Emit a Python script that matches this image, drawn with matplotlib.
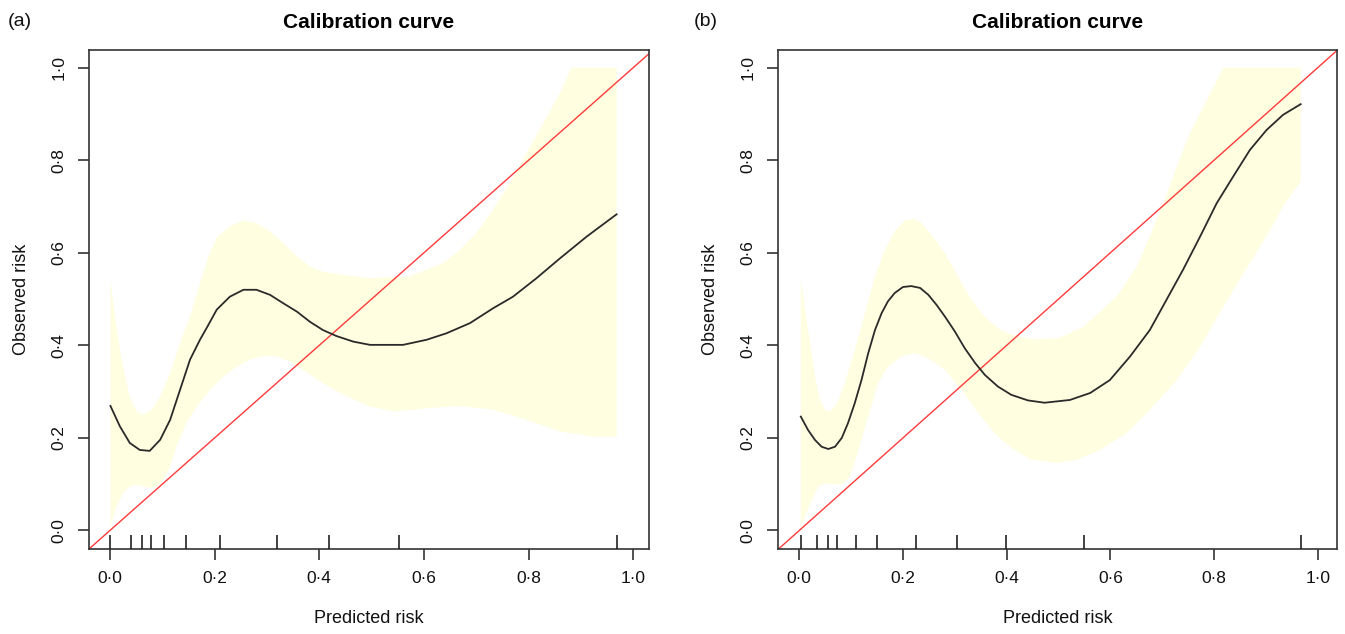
import matplotlib
matplotlib.use("Agg")
import matplotlib.pyplot as plt

plt.rcParams['font.family'] = ['Liberation Sans', 'DejaVu Sans']

# ---------------- data ----------------
tick_vals = [0.0, 0.2, 0.4, 0.6, 0.8, 1.0]
tick_labels = ["0·0", "0·2", "0·4", "0·6", "0·8", "1·0"]

# Panel (a)
a_curve_x = [0.001, 0.019, 0.038, 0.057, 0.076, 0.096, 0.115, 0.134, 0.153, 0.172, 0.188, 0.204,
             0.229, 0.255, 0.280, 0.306, 0.331, 0.357, 0.382, 0.407, 0.433, 0.465, 0.497,
             0.560, 0.605, 0.643, 0.688, 0.732, 0.770, 0.815, 0.860, 0.911, 0.968]
a_curve_y = [0.269, 0.225, 0.189, 0.174, 0.172, 0.196, 0.239, 0.304, 0.369, 0.412, 0.444, 0.477,
             0.505, 0.520, 0.520, 0.509, 0.491, 0.473, 0.451, 0.433, 0.420, 0.408, 0.401,
             0.401, 0.412, 0.426, 0.448, 0.480, 0.505, 0.545, 0.588, 0.635, 0.683]
a_upper_x = [0.001, 0.010, 0.019, 0.029, 0.038, 0.051, 0.064, 0.080, 0.096, 0.115, 0.134, 0.153,
             0.172, 0.188, 0.204, 0.229, 0.255, 0.280, 0.306, 0.331, 0.357, 0.382, 0.407, 0.446,
             0.497, 0.573, 0.637, 0.669, 0.700, 0.732, 0.764, 0.796, 0.828, 0.860, 0.882, 0.968]
a_upper_y = [0.541, 0.462, 0.390, 0.333, 0.289, 0.257, 0.250, 0.261, 0.289, 0.340, 0.405, 0.462,
             0.534, 0.592, 0.632, 0.657, 0.670, 0.664, 0.646, 0.621, 0.592, 0.570, 0.559, 0.552,
             0.545, 0.549, 0.578, 0.606, 0.642, 0.693, 0.750, 0.815, 0.880, 0.945, 1.000, 1.000]
a_lower_x = [0.001, 0.013, 0.025, 0.038, 0.051, 0.064, 0.076, 0.089, 0.102, 0.115, 0.127, 0.146,
             0.166, 0.191, 0.217, 0.242, 0.267, 0.293, 0.318, 0.344, 0.369, 0.407, 0.446, 0.497,
             0.541, 0.605, 0.669, 0.732, 0.796, 0.860, 0.923, 0.968]
a_lower_y = [0.009, 0.052, 0.081, 0.095, 0.099, 0.095, 0.092, 0.095, 0.110, 0.138, 0.181, 0.232,
             0.268, 0.304, 0.333, 0.354, 0.369, 0.377, 0.376, 0.365, 0.347, 0.318, 0.293, 0.268,
             0.257, 0.264, 0.269, 0.261, 0.239, 0.214, 0.203, 0.203]
a_rug = [0.0, 0.04, 0.061, 0.078, 0.103, 0.146, 0.21, 0.319, 0.418, 0.552, 0.969]

# Panel (b)
b_curve_x = [0.003, 0.017, 0.030, 0.043, 0.056, 0.069, 0.082, 0.094, 0.107, 0.120, 0.133, 0.146,
             0.159, 0.171, 0.184, 0.200, 0.216, 0.233, 0.249, 0.265, 0.281, 0.300, 0.319, 0.339,
             0.358, 0.383, 0.409, 0.441, 0.473, 0.522, 0.561, 0.599, 0.638, 0.676, 0.708, 0.740,
             0.773, 0.805, 0.837, 0.869, 0.901, 0.933, 0.967]
b_curve_y = [0.246, 0.217, 0.196, 0.181, 0.176, 0.181, 0.200, 0.232, 0.275, 0.325, 0.383, 0.433,
             0.470, 0.495, 0.513, 0.526, 0.528, 0.524, 0.509, 0.487, 0.462, 0.430, 0.394, 0.362,
             0.336, 0.311, 0.293, 0.281, 0.276, 0.282, 0.297, 0.325, 0.376, 0.433, 0.498, 0.563,
             0.635, 0.707, 0.765, 0.822, 0.865, 0.898, 0.921]
b_upper_x = [0.003, 0.011, 0.021, 0.030, 0.040, 0.050, 0.059, 0.072, 0.088, 0.107, 0.127, 0.146,
             0.165, 0.184, 0.204, 0.220, 0.236, 0.255, 0.281, 0.306, 0.332, 0.358, 0.383, 0.409,
             0.448, 0.499, 0.548, 0.612, 0.651, 0.676, 0.702, 0.728, 0.753, 0.786, 0.818, 0.967]
b_upper_y = [0.541, 0.477, 0.405, 0.333, 0.282, 0.261, 0.257, 0.272, 0.318, 0.390, 0.470, 0.549,
             0.606, 0.646, 0.670, 0.673, 0.664, 0.639, 0.599, 0.549, 0.498, 0.462, 0.437, 0.423,
             0.413, 0.415, 0.440, 0.505, 0.570, 0.635, 0.707, 0.786, 0.858, 0.930, 1.000, 1.000]
b_lower_x = [0.003, 0.014, 0.024, 0.037, 0.050, 0.063, 0.082, 0.098, 0.114, 0.133, 0.152, 0.171,
             0.197, 0.223, 0.249, 0.281, 0.313, 0.345, 0.377, 0.409, 0.448, 0.499, 0.535, 0.580,
             0.631, 0.676, 0.728, 0.773, 0.818, 0.869, 0.908, 0.933, 0.967]
b_lower_y = [0.009, 0.038, 0.066, 0.095, 0.102, 0.100, 0.099, 0.117, 0.174, 0.246, 0.318, 0.354,
             0.376, 0.383, 0.372, 0.347, 0.304, 0.254, 0.210, 0.178, 0.153, 0.146, 0.153, 0.174,
             0.210, 0.261, 0.325, 0.397, 0.484, 0.578, 0.649, 0.700, 0.754]
b_rug = [0.003, 0.034, 0.056, 0.073, 0.109, 0.150, 0.225, 0.304, 0.398, 0.549, 0.967]

panels = [
    dict(tag="(a)", cx=a_curve_x, cy=a_curve_y, ux=a_upper_x, uy=a_upper_y,
         lx=a_lower_x, ly=a_lower_y, rug=a_rug,
         pos=[89 / 1345, 85 / 634, 560 / 1345, 499 / 634], xlim=(-0.040, 1.030), tagx=8),
    dict(tag="(b)", cx=b_curve_x, cy=b_curve_y, ux=b_upper_x, uy=b_upper_y,
         lx=b_lower_x, ly=b_lower_y, rug=b_rug,
         pos=[778 / 1345, 85 / 634, 559 / 1345, 499 / 634], xlim=(-0.041, 1.037), tagx=694),
]

fig = plt.figure(figsize=(13.45, 6.34), dpi=100)
spine_col = "#333333"

for p in panels:
    ax = fig.add_axes(p["pos"])
    ax.set_xlim(*p["xlim"])
    ax.set_ylim(-0.040, 1.038)

    # confidence band: polygon from the upper and lower limits
    poly_x = list(p["ux"]) + list(p["lx"])[::-1]
    poly_y = list(p["uy"]) + list(p["ly"])[::-1]
    ax.fill(poly_x, poly_y, color="#FFFEE0", lw=0, zorder=1)

    ax.axline((0, 0), slope=1, color="#FF3A3A", lw=1.0, zorder=2)
    ax.plot(p["cx"], p["cy"], color="#2a2a2a", lw=1.3, zorder=3)

    ax.vlines(p["rug"], 0, 0.028, transform=ax.get_xaxis_transform(),
              color="#222222", lw=1.2, zorder=4)

    for s in ax.spines.values():
        s.set_color(spine_col)
        s.set_linewidth(1.2)

    ax.set_xticks(tick_vals)
    ax.set_xticklabels(tick_labels)
    ax.set_yticks(tick_vals)
    ax.set_yticklabels(tick_labels)
    ax.tick_params(direction="out", length=8, width=1.2, color=spine_col,
                   labelsize=12.5, pad=8, labelcolor="#111111")
    ax.tick_params(axis="y", labelrotation=90)
    for lab in ax.get_yticklabels():
        lab.set_va("center")

    ax.set_xlabel("Predicted risk", fontsize=13, labelpad=17, color="#111111")
    ax.set_ylabel("Observed risk", fontsize=13, labelpad=16, color="#111111")
    ax.set_title("Calibration curve", fontsize=15, fontweight="bold", pad=16)

    fig.text(p["tagx"] / 1345, 1 - 21 / 634, p["tag"], fontsize=14,
             ha="left", va="center", color="#111111")

fig.savefig("out.png", dpi=100)
